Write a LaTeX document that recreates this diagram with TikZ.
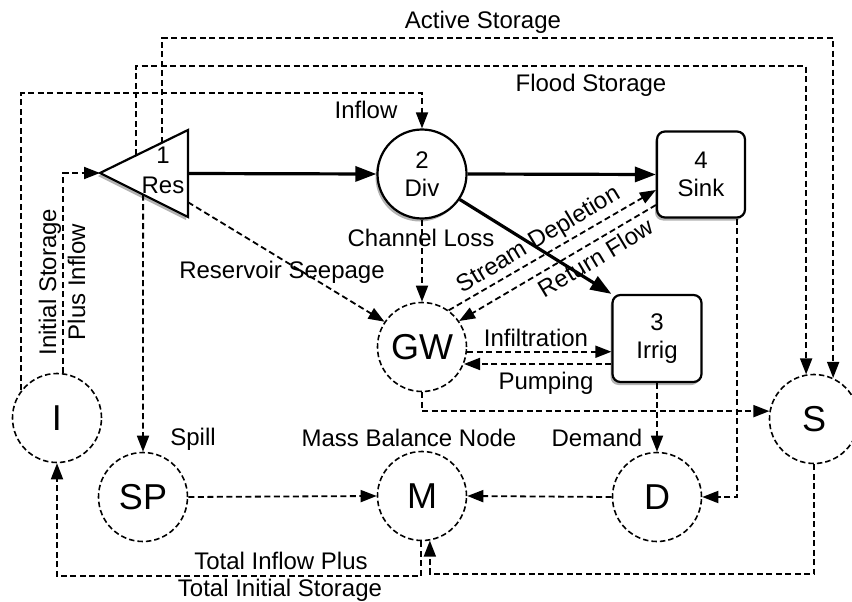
\documentclass[tikz,border=0pt]{standalone}
\usepackage{fontspec}
\setmainfont{Liberation Sans}
\usetikzlibrary{arrows.meta,calc,shadows}

\begin{document}
\begin{tikzpicture}[x=1pt,y=-1pt,
  txt/.style={font=\fontsize{24}{29}\selectfont, inner sep=0pt},
  shade/.style={drop shadow={shadow xshift=-2pt,shadow yshift=-3pt,fill=black,opacity=0.3}},
  obj/.style={draw, line width=2.2pt, fill=white, align=center, inner sep=0pt,
    font=\fontsize{24}{28}\selectfont, shade},
  divnode/.style={obj, circle, minimum size=89pt},
  box/.style={obj, rounded corners=8pt, minimum width=88pt, minimum height=86pt},
  ball/.style={circle, draw, line width=1.6pt, dash pattern=on 5.5pt off 3pt,
    minimum size=89pt, inner sep=0pt, font=\fontsize{36}{40}\selectfont},
  main/.style={line width=3.2pt, -{Triangle[length=21pt,width=15pt]}},
  flow/.style={line width=1.8pt, dash pattern=on 6pt off 3.5pt,
    -{Triangle[length=16pt,width=12pt]}}]
\useasboundingbox (0,0) rectangle (852,602);

% reservoir
\draw[line width=2.2pt, fill=white, shade] (100,173) coordinate (restip) -- (188,130) coordinate (restop)
  -- (188,217) coordinate (resbot) -- cycle;
\node[txt, align=center, font=\fontsize{24}{30}\selectfont] (res) at (163,170) {1\\Res};
\coordinate (resmid) at ($(restop)!0.5!(resbot)$);
\coordinate (resseep) at ($(restop)!0.83!(resbot)$);
\coordinate (resact) at ($(restip)!0.705!(restop)$);
\coordinate (resfld) at ($(restip)!0.41!(restop)$);
\coordinate (resspill) at ($(restip)!0.49!(resbot)$);

% main objects
\node[divnode] (div) at (422,174) {2\\Div};
\node[box] (sink) at (701,174.5) {4\\Sink};
\node[box, minimum width=89pt, minimum height=87pt] (irrig) at (657,338.5) {3\\Irrig};

% accounting nodes
\node[ball] (gw) at (422,347) {GW};
\node[ball] (s) at (814,419) {S};
\node[ball] (i) at (57,418) {I};
\node[ball] (sp) at (143,497) {SP};
\node[ball] (m) at (422,496) {M};
\node[ball] (d) at (657,497) {D};

% solid links
\draw[main] (resmid) -- (div.west);
\draw[main] (div.east) -- (sink.west);
\draw[main] (div.-34) -- (irrig.north west);

% dashed links
\draw[flow] (i.142) |- (div.north |- 0,93) -- (div.north);
\draw[flow] (i.82) |- (restip);
\draw[flow] (resact) |- (s.65 |- 0,38) -- (s.65);
\draw[flow] (resfld) |- (s.100 |- 0,66) -- (s.100);
\draw[flow] (resseep) -- (gw.146);
\draw[flow] (resspill) -- (sp.north);
\draw[flow] (div.south) -- (gw.north);
\draw[flow] (gw.54) -- ([yshift=-15.5pt]sink.west);
\draw[flow] ([yshift=-30.5pt]sink.west) -- (gw.35);
\draw[flow] (gw.-6) -- (gw.-6 -| irrig.west);
\draw[flow] (irrig.west |- gw.-22) -- (gw.-22);
\draw[flow] (gw.south) |- (s.170);
\draw[flow] (irrig.south) -- (d.north);
\draw[flow] ([xshift=36pt]sink.south) |- (d.east);
\draw[flow] (sp.east) -- (m.west);
\draw[flow] (d.west) -- (m.east);
\draw[flow] (s.south) -- ++(0,110) -| (m.-80);
\draw[flow] (m.-91) -- ++(0,35) -| (i.south);

% labels
\node[txt] (lblact) at (483,22) {Active Storage};
\node[txt] (lblfld) at (591,85) {Flood Storage};
\node[txt] (lblin) at (366,110) {Inflow};
\node[txt] (lblchan) at (421,238) {Channel Loss};
\node[txt] (lblseep) at (282,272) {Reservoir Seepage};
\node[txt, rotate=31] (lblstream) at (539,240) {Stream Depletion};
\node[txt, rotate=31] (lblret) at (596,258) {Return Flow};
\node[txt] (lblinf) at (536,338) {Infiltration};
\node[txt] (lblpump) at (546,383) {Pumping};
\node[txt, rotate=90, align=center] (lblinit) at (62,282) {Initial Storage\\Plus Inflow};
\node[txt] (lblspill) at (193,439) {Spill};
\node[txt] (lblmass) at (409,438) {Mass Balance Node};
\node[txt] (lbldem) at (597,438) {Demand};
\node[txt] (lbltot) at (281,561) {Total Inflow Plus};
\node[txt] (lbltot2) at (280,590) {Total Initial Storage};
\end{tikzpicture}
\end{document}
